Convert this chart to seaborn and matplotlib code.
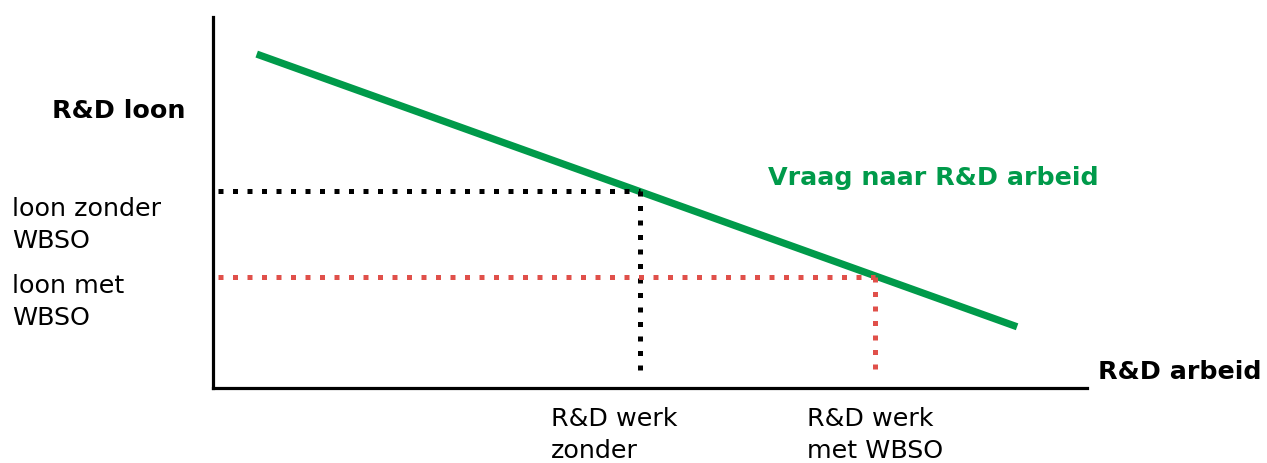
import matplotlib
matplotlib.use("Agg")
import matplotlib.pyplot as plt
import seaborn as sns
import pandas as pd

# Data (abstract units)
demand_x = [0.5, 9.2]          # R&D arbeid
demand_y = [9.0, 1.65]         # R&D loon
q_zonder, w_zonder = 4.88, 5.31
q_met, w_met = 7.58, 2.98
dot_floor = 0.45
dot_start = 0.06

green = "#009a4a"
red = "#e0504a"

sns.set_style("white")
plt.rcParams['font.family'] = ['DejaVu Sans']
plt.rcParams['text.color'] = 'black'

W, H = 1267, 464
fig = plt.figure(figsize=(W / 100, H / 100), dpi=100)
ax = fig.add_axes([213 / W, (H - 389) / H, 874 / W, 371 / H])
ax.set_xlim(0, 10)
ax.set_ylim(0, 10)

df = pd.DataFrame({"x": demand_x, "y": demand_y})
sns.lineplot(data=df, x="x", y="y", ax=ax, color=green, linewidth=5.2,
             solid_capstyle="butt")

dot = (0, (1, 1.9))
lw = 3.6
ax.plot([dot_start, q_zonder], [w_zonder, w_zonder], color="black", lw=lw, linestyle=dot)
ax.plot([q_zonder, q_zonder], [w_zonder, dot_floor], color="black", lw=lw, linestyle=dot)
ax.plot([dot_start, q_met], [w_met, w_met], color=red, lw=lw, linestyle=dot)
ax.plot([q_met, q_met], [w_met, dot_floor], color=red, lw=lw, linestyle=dot)

for s in ["top", "right"]:
    ax.spines[s].set_visible(False)
for s in ["left", "bottom"]:
    ax.spines[s].set_linewidth(2.3)
    ax.spines[s].set_color("black")
ax.set_xticks([])
ax.set_yticks([])
ax.set_xlabel("")
ax.set_ylabel("")

fs = 18.3
def ftxt(px, py, s, **kw):
    kw.setdefault("color", "black")
    fig.text(px / W, 1 - py / H, s, fontsize=fs, va="center", ha="left", **kw)

ftxt(52, 111, "R&D loon", fontweight="bold")
ftxt(12, 225, "loon zonder\nWBSO", linespacing=1.38)
ftxt(12, 302, "loon met\nWBSO", linespacing=1.38)
ftxt(768, 178, "Vraag naar R&D arbeid", fontweight="bold", color=green)
ftxt(1098, 372, "R&D arbeid", fontweight="bold")
ftxt(551, 435, "R&D werk\nzonder", linespacing=1.38)
ftxt(807, 435, "R&D werk\nmet WBSO", linespacing=1.38)

fig.savefig("out.png", dpi=100)
